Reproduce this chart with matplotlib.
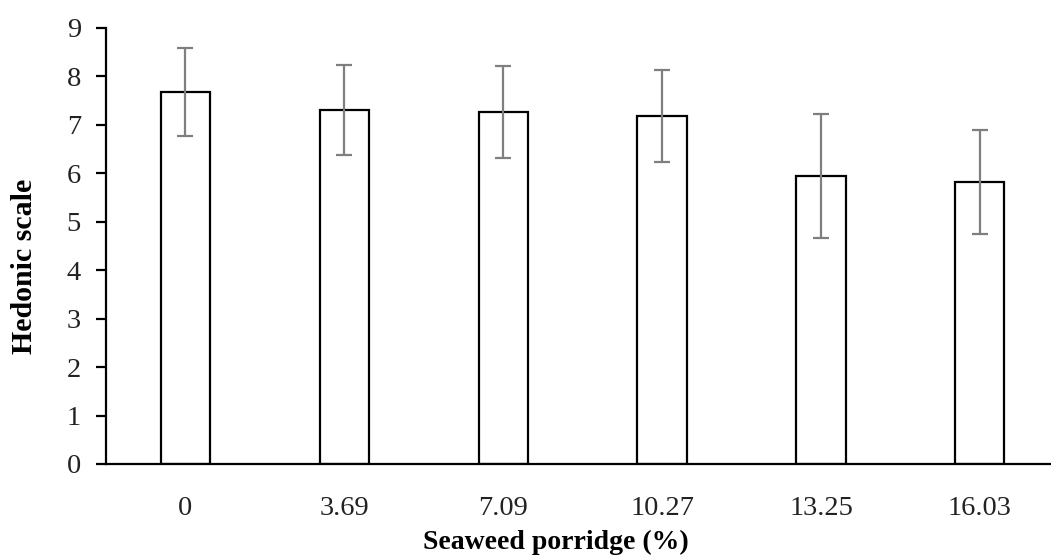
import numpy as np
import matplotlib.pyplot as plt

# seaweed porridge levels (%) and hedonic scores
levels = ["0", "3.69", "7.09", "10.27", "13.25", "16.03"]
means = [7.68, 7.31, 7.27, 7.18, 5.95, 5.82]
sds = [0.91, 0.93, 0.95, 0.95, 1.28, 1.08]

plt.rcParams['font.family'] = ['Liberation Serif', 'DejaVu Serif']

fig = plt.figure(figsize=(10.51, 5.59), dpi=100)
ax = fig.add_axes([0.1009, 0.170, 0.907, 0.780])

x = np.arange(len(levels))
ax.bar(x, means, width=0.31, color="white", edgecolor="black", linewidth=1.6, zorder=2)
ax.errorbar(x, means, yerr=sds, fmt="none", ecolor="#7f7f7f", elinewidth=1.6,
            capsize=6, capthick=1.6, zorder=3)

ax.set_xlim(-0.5, 5.5)
ax.set_ylim(0, 9)
ax.set_yticks(range(10))
ax.set_xticks(x)
ax.set_xticklabels(levels)

for s in ["top", "right"]:
    ax.spines[s].set_visible(False)
ax.spines["left"].set_linewidth(1.6)
ax.spines["bottom"].set_linewidth(1.6)

ax.tick_params(axis="y", direction="out", length=7, width=1.6, pad=11,
               labelsize=20.5, labelcolor="#222222")
ax.tick_params(axis="x", length=0, pad=23, labelsize=20.5, labelcolor="#222222")

ax.set_xlabel("Seaweed porridge (%)", fontsize=20, fontweight="bold")
ax.set_ylabel("Hedonic scale", fontsize=21.5, fontweight="bold")
# labels sit a little off-centre in the original
ax.xaxis.set_label_coords(0.472, -0.150)
ax.yaxis.set_label_coords(-0.071, 0.454)

fig.savefig("out.png", dpi=100)
